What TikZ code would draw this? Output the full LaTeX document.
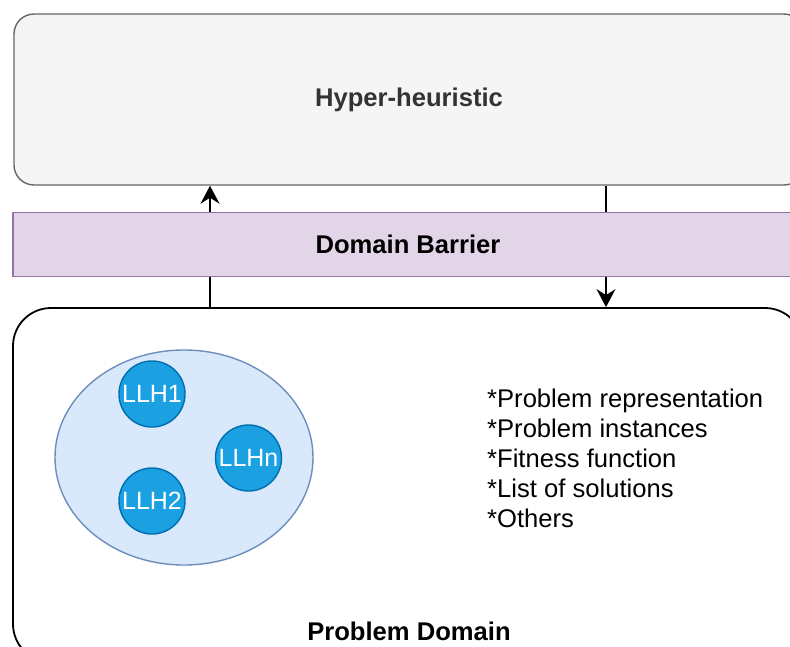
\documentclass[tikz,border=0pt]{standalone}
\usepackage{fontspec}
\setmainfont{Liberation Sans}
\usetikzlibrary{arrows.meta,shapes.geometric}
\definecolor{hhfill}{HTML}{F5F5F5}
\definecolor{hhline}{HTML}{666666}
\definecolor{hhtext}{HTML}{333333}
\definecolor{dbfill}{HTML}{E1D5E7}
\definecolor{dbline}{HTML}{9673A6}
\definecolor{elfill}{HTML}{DAE8FC}
\definecolor{elline}{HTML}{6C8EBF}
\definecolor{llfill}{HTML}{1BA1E2}
\definecolor{llline}{HTML}{006EAF}
\tikzset{
  bigfont/.style={font=\fontsize{25.6}{30}\selectfont},
  hhbox/.style={draw=hhline, fill=hhfill, line width=1.4pt, rounded corners=20pt, minimum width=790pt, minimum height=171pt, inner sep=0pt, text=hhtext, font=\fontsize{25.6}{30}\selectfont\bfseries},
  barrierbox/.style={draw=dbline, fill=dbfill, line width=1.4pt, minimum width=790pt, minimum height=64pt, inner sep=0pt, font=\fontsize{25.6}{30}\selectfont\bfseries},
  domainbox/.style={draw=black, fill=white, line width=1.8pt, rounded corners=38pt, minimum width=790pt, minimum height=354pt, inner sep=0pt},
  poolshape/.style={ellipse, draw=elline, fill=elfill, line width=1.4pt, minimum width=258pt, minimum height=215pt, inner sep=0pt},
  llh/.style={circle, draw=llline, fill=llfill, line width=1.4pt, minimum size=66pt, inner sep=0pt, text=white, font=\fontsize{25}{30}\selectfont},
  conn/.style={line width=1.5pt, -{Stealth[length=18pt,width=19pt,inset=6pt]}},
}
\begin{document}
\begin{tikzpicture}[x=1pt,y=-1pt]
\useasboundingbox (0,0) rectangle (790,646);
\clip (0,0) rectangle (790,646);
\node[hhbox] (hh) at (409,99.5) {Hyper-heuristic};
\node[domainbox] (dom) at (408,485) {};
\coordinate (upx) at (210,0);
\coordinate (dnx) at (606,0);
\draw[conn] (dom.north -| upx) -- (hh.south -| upx);
\draw[conn] (hh.south -| dnx) -- (dom.north -| dnx);
\node[barrierbox] (db) at (408,244.5) {Domain Barrier};
\node[poolshape] (pool) at (184,457.5) {};
\node[llh] (l1) at (152,394) {LLH1};
\node[llh] (l2) at (152,501) {LLH2};
\node[llh] (ln) at (248.5,458) {LLHn};
\node[bigfont, align=left, anchor=north west, inner sep=0pt] (info) at (487,389) {*Problem representation\\*Problem instances\\*Fitness function\\*List of solutions\\*Others};
\node[font=\fontsize{25.6}{30}\selectfont\bfseries, inner sep=0pt] (pd) at (409,631) {Problem Domain};
\end{tikzpicture}
\end{document}
